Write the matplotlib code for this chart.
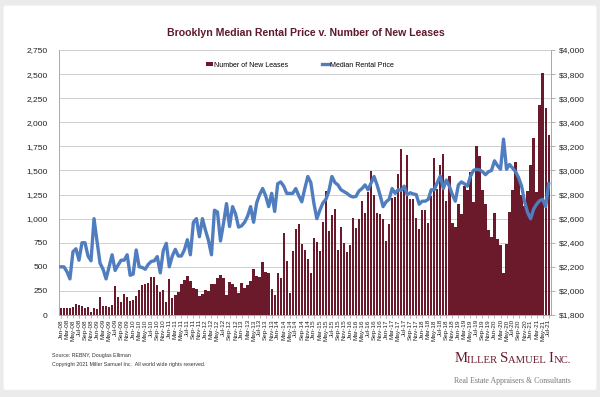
import matplotlib
matplotlib.use("Agg")
import matplotlib.pyplot as plt
from matplotlib.patches import FancyBboxPatch
from matplotlib.ticker import FuncFormatter
import pandas as pd

# monthly data, Jan-08 .. Jul-21
months = pd.date_range("2008-01-01", periods=163, freq="MS").strftime("%b-%y").tolist()

new_leases = [
    76, 69, 72, 76, 83, 114, 103, 97, 72, 79, 35, 69,
    59, 186, 97, 97, 79, 103, 297, 186, 134, 217, 183, 145,
    152, 200, 259, 314, 317, 328, 393, 393, 310, 235, 255, 140,
    372, 180, 212, 236, 321, 360, 402, 350, 280, 265, 195, 215,
    260, 250, 318, 318, 380, 416, 385, 204, 342, 318, 287, 225,
    332, 277, 308, 353, 477, 406, 392, 554, 450, 439, 266, 208,
    439, 388, 848, 561, 225, 664, 889, 948, 734, 675, 578, 439,
    799, 754, 664, 969, 1291, 875, 1035, 1097, 675, 910, 751, 650,
    725, 1012, 906, 996, 1187, 1062, 1273, 1498, 1249, 1055, 1045, 993,
    768, 945, 1211, 1221, 1464, 1720, 1304, 1661, 1204, 1204, 1003, 893,
    1090, 1090, 952, 1235, 1626, 1304, 1557, 1668, 1187, 1443, 960, 917,
    1149, 1048, 1339, 1298, 1481, 1176, 1754, 1654, 1298, 1152, 879, 810,
    1059, 785, 723, 439, 738, 1070, 1300, 1590, 1430, 1250, 1128, 1290,
    1559, 1835, 1273, 2180, 2508, 2146, 1870,
]

median_rent = [
    2200, 2200, 2160, 2100, 2325, 2350, 2255, 2400, 2400, 2290, 2250, 2600,
    2410, 2230, 2180, 2100, 2200, 2300, 2170, 2215, 2255, 2255, 2300, 2130,
    2140, 2340, 2200, 2195, 2180, 2220, 2245, 2250, 2285, 2150, 2335, 2395,
    2200, 2290, 2345, 2290, 2290, 2340, 2425, 2300, 2570, 2600, 2450, 2600,
    2505, 2420, 2300, 2670, 2655, 2415, 2560, 2725, 2535, 2700, 2640, 2530,
    2540, 2570, 2620, 2700, 2570, 2730, 2800, 2850, 2790, 2700, 2810, 2660,
    2890, 2905, 2870, 2810, 2810, 2810, 2850, 2790, 2740, 2850, 2950, 2900,
    2730, 2600, 2670, 2730, 2760, 2830, 2950, 2900, 2880, 2840, 2825, 2810,
    2790, 2780, 2785, 2830, 2850, 2880, 2840, 2895, 2950, 2880, 2795, 2700,
    2740, 2760, 2850, 2810, 2840, 2835, 2870, 2800, 2815, 2805, 2800, 2720,
    2745, 2745, 2760, 2840, 2840, 2900, 2955, 2850, 2920, 2870, 2800, 2745,
    2880, 2905, 2890, 2870, 2950, 3000, 3010, 3005, 2990, 2965, 2990, 3000,
    3080, 3040, 3010, 3260, 3010, 3050, 3020, 2990, 2940, 2870, 2740, 2650,
    2600, 2680, 2720, 2750, 2760, 2700, 2890,
]

bar_color = "#6b1a2c"
line_color = "#4f7dbf"
grid_color = "#cfcfcf"

plt.rcParams["font.family"] = ["Liberation Sans", "DejaVu Sans"]

fig = plt.figure(figsize=(6, 3.97), dpi=100, facecolor="#ebebeb")
fig.patches.append(FancyBboxPatch((0.006, 0.018), 0.988, 0.968,
                                  boxstyle="round,pad=0,rounding_size=0.004",
                                  transform=fig.transFigure, facecolor="white",
                                  edgecolor="none", zorder=-5))

ax = fig.add_axes([0.098, 0.2065, 0.82, 0.6675])
ax.set_facecolor("none")
x = list(range(len(months)))
bars = ax.bar(x, new_leases, width=0.78, color=bar_color, zorder=2,
              label="Number of New Leases")
ax.set_xlim(-0.7, len(months) - 0.3)
ax.set_ylim(0, 2750)
ax.set_yticks(range(0, 2751, 250))
ax.yaxis.set_major_formatter(FuncFormatter(lambda v, p: f"{int(v):,}"))
ax.grid(axis="y", color=grid_color, linewidth=0.7, zorder=0)
ax.set_axisbelow(True)
ax.set_xticks(x[::2])
ax.set_xticklabels(months[::2], rotation=90, fontsize=4.6)
ax.tick_params(axis="y", labelsize=6, length=0, pad=8, colors="#222222")
ax.tick_params(axis="x", length=2, width=0.5, pad=1, colors="#222222", color="#999999")
ax.spines["top"].set_visible(False)
for s in ["left", "right", "bottom"]:
    ax.spines[s].set_color("#aaaaaa")
    ax.spines[s].set_linewidth(0.7)

ax2 = ax.twinx()
line, = ax2.plot(x, median_rent, color=line_color, linewidth=2.4, zorder=3,
                 solid_joinstyle="round", label="Median Rental Price")
ax2.set_ylim(1800, 4000)
ax2.set_yticks(range(1800, 4001, 200))
ax2.yaxis.set_major_formatter(FuncFormatter(lambda v, p: f"${int(v):,}"))
ax2.tick_params(axis="y", labelsize=6, length=3, width=0.5, pad=3,
                colors="#222222", color="#999999")
for s in ["top", "left", "bottom"]:
    ax2.spines[s].set_visible(False)
ax2.spines["right"].set_color("#aaaaaa")
ax2.spines["right"].set_linewidth(0.7)

ax2.legend([bars, line], ["Number of New Leases", "Median Rental Price"],
           loc="upper center", bbox_to_anchor=(0.49, 0.98), ncol=2,
           frameon=False, fontsize=5, handlelength=1.0, handleheight=0.5,
           handletextpad=0.1, columnspacing=5)

fig.text(0.51, 0.918, "Brooklyn Median Rental Price v. Number of New Leases",
         ha="center", va="center", fontsize=7.6, fontweight="bold", color="#5e1a2a")

fig.text(0.087, 0.1, "Source: REBNY, Douglas Elliman", fontsize=3.8, color="#333333")
fig.text(0.087, 0.077, "Copyright 2021 Miller Samuel Inc.  All world wide rights reserved.",
         fontsize=3.8, color="#333333")

# company name in small caps
serif = ["Liberation Serif", "DejaVu Serif"]
prev = fig.text(0.757, 0.088, "M", fontsize=10.6, family=serif, color="#6b1a2c",
                va="baseline")
for piece, size in [("ILLER\u00a0", 7.7), ("S", 10.6), ("AMUEL\u00a0", 7.7), ("I", 10.6), ("NC.", 7.7)]:
    prev = ax.annotate(piece, xy=(1, 0), xycoords=prev, fontsize=size, family=serif,
                       color="#6b1a2c", va="bottom", ha="left", annotation_clip=False)
fig.text(0.756, 0.035, "Real Estate Appraisers & Consultants", fontsize=5.6,
         family=serif, color="#777777")

fig.savefig("out.png", dpi=100, facecolor=fig.get_facecolor())
